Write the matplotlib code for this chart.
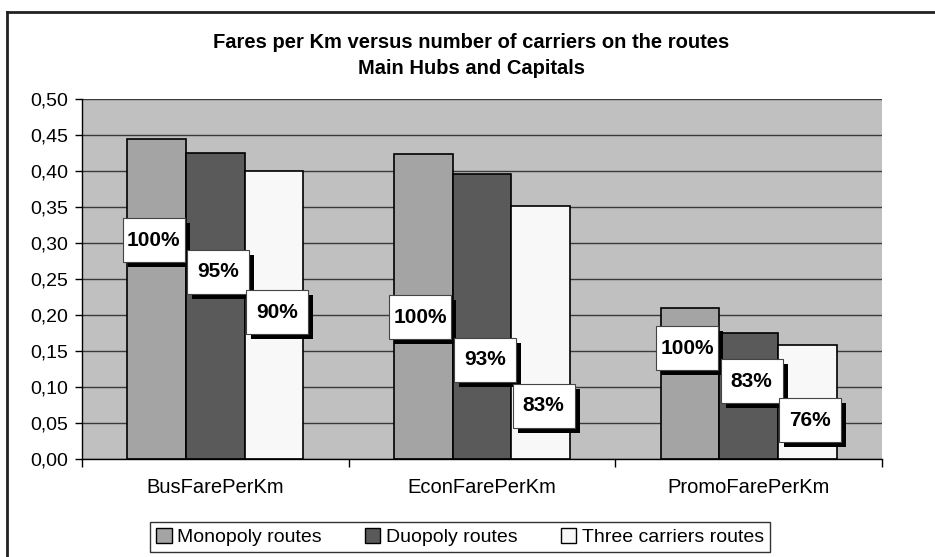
import matplotlib
matplotlib.use("Agg")
import matplotlib.pyplot as plt
import numpy as np
from matplotlib.patches import Rectangle
from matplotlib.lines import Line2D
from matplotlib.ticker import FuncFormatter, MultipleLocator
from matplotlib.transforms import ScaledTranslation

plt.rcParams["font.family"] = ["Liberation Sans", "DejaVu Sans"]

# data
categories = ["BusFarePerKm", "EconFarePerKm", "PromoFarePerKm"]
series = ["Monopoly routes", "Duopoly routes", "Three carriers routes"]
monopoly = [0.444, 0.424, 0.210]
duopoly = [0.425, 0.396, 0.175]
three = [0.400, 0.351, 0.158]
pct_labels = [["100%", "95%", "90%"],
              ["100%", "93%", "83%"],
              ["100%", "83%", "76%"]]
# where the percent boxes sit (y, data units), per category / series
label_y = [[0.304, 0.260, 0.204],
           [0.197, 0.138, 0.074],
           [0.154, 0.108, 0.054]]

colors = ["#A4A4A4", "#5A5A5A", "#F8F8F8"]

DPI = 100
fig = plt.figure(figsize=(9.35, 5.57), dpi=DPI)
fig.patch.set_facecolor("white")
ax = fig.add_axes([82/935, 98/557, 800/935, 360/557])
ax.set_facecolor("#C0C0C0")

x = np.arange(len(categories))
w = 0.22
for i, (vals, col) in enumerate(zip([monopoly, duopoly, three], colors)):
    ax.bar(x + (i - 1) * w, vals, w, color=col, edgecolor="black",
           linewidth=1.2, label=series[i], zorder=3)

ax.set_xlim(-0.5, 2.5)
ax.set_ylim(0, 0.5)
ax.yaxis.set_major_locator(MultipleLocator(0.05))
ax.yaxis.set_major_formatter(FuncFormatter(lambda v, p: f"{v:.2f}".replace(".", ",")))
ax.grid(axis="y", color="#3A3A3A", linewidth=1.0, zorder=1)
ax.set_axisbelow(True)

ax.set_xticks([-0.5, 0.5, 1.5, 2.5])
ax.set_xticklabels([])
ax.set_xticks(x, minor=True)
ax.set_xticklabels(categories, minor=True)
ax.tick_params(axis="x", which="major", length=6, direction="out", width=1)
ax.tick_params(axis="x", which="minor", length=0, pad=14, labelsize=14.5)
ax.tick_params(axis="y", length=5, width=1, direction="out", pad=5, labelsize=14)
for s in ["top", "right"]:
    ax.spines[s].set_visible(False)
for s in ["left", "bottom"]:
    ax.spines[s].set_color("black")
    ax.spines[s].set_linewidth(1.0)
    ax.spines[s].set_zorder(4)

# percent boxes with drop shadow
bw, bh, sh = 62 / DPI, 44 / DPI, 5 / DPI
xshift = [-3, 3, 3]
for c in range(len(categories)):
    for s in range(len(series)):
        xc = x[c] + (s - 1) * w
        yc = label_y[c][s]
        tr = (fig.dpi_scale_trans + ScaledTranslation(xc, yc, ax.transData)
              + ScaledTranslation(xshift[s] / DPI, 0, fig.dpi_scale_trans))
        ax.add_patch(Rectangle((-bw/2 + sh, -bh/2 - sh), bw, bh, transform=tr,
                               facecolor="black", edgecolor="none", zorder=5))
        ax.add_patch(Rectangle((-bw/2, -bh/2), bw, bh, transform=tr,
                               facecolor="white", edgecolor="#444444",
                               linewidth=0.8, zorder=6))
        ax.text(0, 0, pct_labels[c][s], ha="center", va="center", transform=tr,
                fontsize=15, fontweight="bold", color="black", zorder=7)

# title
fig.text(471/935, 1 - 42/557, "Fares per Km versus number of carriers on the routes",
         ha="center", va="center", fontsize=14.5, fontweight="bold")
fig.text(471/935, 1 - 68/557, "Main Hubs and Capitals",
         ha="center", va="center", fontsize=14.5, fontweight="bold")

# legend
leg = fig.legend(loc="center", bbox_to_anchor=(460/935, 1 - 537/557), ncol=3,
                 fontsize=14, frameon=True, fancybox=False, handlelength=0.8,
                 handleheight=0.8, handletextpad=0.3, columnspacing=2.2,
                 borderpad=0.3)
leg.get_frame().set_edgecolor("black")
leg.get_frame().set_linewidth(1.0)
for h in leg.legend_handles:
    h.set_linewidth(1.0)

# chart border (left and top edges visible)
fig.add_artist(Line2D([7/935, 7/935], [0, 1 - 12/557], transform=fig.transFigure,
                      color="#222222", linewidth=2))
fig.add_artist(Line2D([7/935, 1], [1 - 12/557, 1 - 12/557], transform=fig.transFigure,
                      color="#222222", linewidth=2))

fig.savefig("out.png", dpi=DPI)
